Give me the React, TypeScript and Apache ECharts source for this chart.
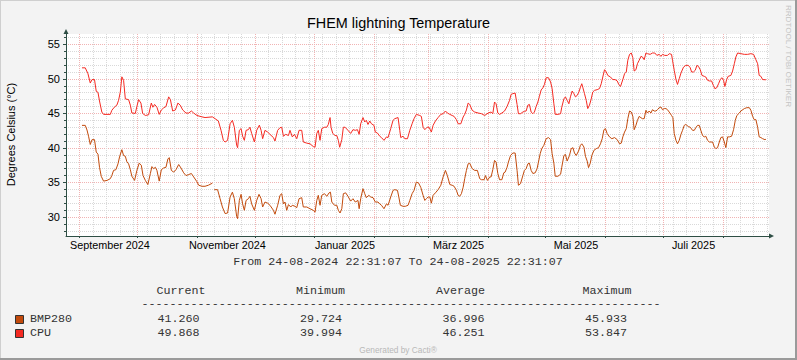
import React, { useEffect, useRef } from 'react';
import * as echarts from 'echarts';

// ---------- data ----------
const START = Date.UTC(2024, 7, 24, 22, 31, 7);
const DAY = 86400000;
const END = START + 365 * DAY;

// [days since start, °C]
const cpuSamples: [number, number][] = [
  [8.3,51.6],[10.0,51.6],[11.4,50.75],[12.6,49.4],[13.5,49.9],[14.8,49.9],[15.7,48.2],[16.6,48.05],[17.4,46.8],[18.6,45.2],[19.5,44.86],[23.0,44.86],[23.8,45.45],[25.1,45.9],[26.4,46.2],[27.3,46.9],[28.2,48.1],[29.0,50.3],[29.9,49.8],[30.8,47.1],[32.5,47.0],[33.4,46.2],[34.2,45.06],[36.0,45.0],[36.8,46.0],[37.7,47.0],[38.9,46.5],[39.8,45.0],[41.2,44.7],[42.9,44.8],[44.3,46.5],[45.1,45.9],[46.0,46.3],[47.2,45.9],[48.4,44.86],[49.5,45.5],[50.7,45.8],[51.9,46.0],[53.3,47.4],[54.2,47.0],[55.4,45.35],[56.8,45.5],[58.1,46.5],[59.3,46.2],[60.6,45.5],[62.3,45.05],[63.7,45.05],[65.1,45.35],[66.3,45.05],[68.0,44.7],[70.6,44.5],
  [72.2,44.4],[76.0,44.5],[77.4,44.24],[79.1,43.9],[80.5,42.55],[81.7,41.1],[82.6,40.86],[83.9,41.1],[85.2,43.5],[86.4,44.0],[87.4,43.0],[88.6,40.4],[89.1,40.04],[90.0,42.55],[90.9,42.8],[91.7,41.7],[92.6,41.1],[93.5,42.55],[94.7,42.65],[95.5,43.0],[96.4,42.1],[97.8,40.86],[99.0,42.55],[100.4,43.3],[101.3,42.55],[102.1,41.34],[103.3,42.55],[104.7,42.3],[105.9,41.97],[107.7,41.5],[108.5,41.0],[109.9,42.55],[111.1,42.93],[112.0,43.0],[112.9,41.7],[114.1,41.97],[115.5,41.8],[116.3,42.55],[117.5,41.6],[118.6,41.97],[119.8,41.34],[121.0,42.55],[122.4,42.55],[123.2,40.86],[125.0,40.7],[126.7,40.6],[128.4,40.2],[129.3,40.1],[130.2,42.1],[131.0,42.55],[131.9,41.1],[132.8,42.8],[134.2,43.0],[135.4,43.0],[136.2,43.4],[137.1,44.4],[137.6,43.0],[138.5,42.1],[139.7,41.8],[140.6,41.8],[141.4,41.1],[142.1,40.1],[143.2,41.2],[144.0,43.0],[144.9,43.0],
  [146.4,42.55],[147.8,42.1],[149.0,42.65],[150.2,42.55],[151.3,42.65],[152.2,41.97],[153.0,43.5],[154.2,44.4],[155.1,43.76],[155.9,44.0],[156.8,43.4],[157.7,43.9],[158.6,43.5],[159.9,43.27],[160.6,42.3],[161.7,42.16],[162.9,41.7],[163.8,41.5],[165.1,41.1],[166.4,41.6],[167.2,41.5],[168.6,42.8],[169.8,44.0],[170.7,44.24],[172.4,44.4],[173.3,42.55],[173.8,41.5],[175.0,41.7],[175.9,41.34],[177.3,41.34],[178.5,42.55],[179.7,43.5],[180.7,44.24],[181.9,44.86],[183.7,44.7],[184.5,44.57],[185.4,43.0],[186.3,42.65],[187.5,43.0],[188.5,43.0],[189.7,42.3],[190.6,43.27],[191.8,43.9],[193.2,44.4],[194.6,44.86],[195.8,44.96],[197.0,45.35],[198.0,45.06],[199.3,44.86],[200.5,44.7],[201.5,44.57],[202.7,44.1],[203.6,43.5],[205.0,43.5],[206.2,44.48],[207.0,44.86],[207.9,45.5],[208.8,46.5],[209.6,46.3],[210.9,45.45],[212.2,45.2],[214.0,45.06],[215.7,44.96],[217.4,44.7],[219.2,45.06],
  [220.7,45.2],[221.6,44.96],[222.5,46.65],[223.3,46.4],[224.2,45.06],[225.1,44.86],[226.3,45.06],[227.7,45.35],[229.0,46.0],[230.3,46.9],[231.1,47.76],[232.0,47.86],[233.2,47.95],[234.2,46.3],[234.9,44.96],[236.0,44.96],[237.2,45.2],[238.0,45.3],[238.9,45.35],[239.8,46.2],[240.6,46.3],[241.5,45.2],[242.4,44.96],[243.2,45.2],[244.1,46.0],[245.0,46.65],[245.8,47.47],[246.7,48.4],[247.6,48.7],[248.4,49.2],[249.3,50.17],[250.5,50.17],[251.6,49.55],[252.4,48.6],[253.3,46.4],[254.0,44.86],[255.4,44.86],[256.8,44.96],[257.4,45.9],[258.5,47.1],[259.3,47.4],[260.2,46.9],[261.1,46.4],[261.9,47.4],[262.8,48.24],[263.7,47.86],[264.5,47.4],[265.4,47.6],[266.3,48.1],[267.1,48.8],[267.8,49.3],[268.3,48.8],[269.2,47.86],[270.1,46.9],[270.9,45.7],[271.8,46.2],[272.7,47.1],[273.5,48.1],[274.4,48.34],[275.8,48.44],[277.0,48.6],[277.9,49.3],[278.7,50.27],[279.6,51.33],[280.5,51.0],[281.3,50.5],[282.7,50.27],[283.9,49.9],[285.1,49.9],[286.2,49.7],[287.0,49.2],[287.9,48.9],[289.1,49.9],[290.0,50.75],[290.9,51.0],[291.7,52.7],[292.6,53.55],[293.5,53.75],[294.3,53.07],
  [295.0,51.14],[295.9,51.33],[296.7,52.2],[297.6,52.7],[298.5,53.26],[299.3,53.17],[300.2,52.78],[301.1,53.75],[301.9,53.65],[303.3,53.55],[304.5,53.75],[305.7,53.75],[306.8,53.4],[308.0,53.55],[308.9,53.26],[309.7,53.55],[310.9,53.4],[312.3,53.4],[313.2,53.65],[314.4,53.55],[314.9,52.7],[315.8,51.24],[316.7,49.9],[317.5,49.2],[318.4,50.03],[319.3,50.85],[320.6,51.7],[321.8,51.96],[323.1,51.96],[324.1,51.62],[324.8,51.0],[325.8,51.0],[326.7,51.24],[327.6,51.96],[328.4,51.8],[329.3,51.33],[330.2,50.5],[331.4,50.37],[332.2,50.27],[333.1,49.8],[334.0,49.7],[335.2,49.7],[336.1,49.06],[336.9,48.58],[337.9,48.73],[338.8,49.3],[339.7,49.9],[340.5,50.17],[341.4,49.8],[342.1,48.9],[343.0,49.9],[343.8,50.37],[345.2,50.5],[346.1,51.14],[347.0,52.2],[347.8,53.17],[348.7,53.75],[350.4,53.65],[352.2,53.55],[353.9,53.55],[355.6,53.65],[357.0,53.55],[358.2,52.78],[359.1,52.2],[359.9,50.5],[360.8,50.37],[361.7,49.9],[363.4,49.87]
];

const bmpSamples: [number, number | null][] = [
  [8.3,43.27],[10.0,43.27],[10.9,42.6],[11.7,41.7],[12.6,40.5],[13.5,41.2],[14.8,41.2],[15.7,39.4],[16.6,39.1],[17.4,37.2],[18.3,35.9],[19.5,35.2],[21.3,35.3],[23.0,35.55],[23.8,36.0],[24.7,36.75],[25.9,36.85],[27.0,37.7],[27.8,38.7],[29.0,39.75],[29.9,38.9],[30.8,38.8],[31.6,38.0],[32.5,37.7],[33.4,36.85],[34.2,35.9],[35.6,35.3],[36.8,36.75],[38.0,37.8],[39.1,37.5],[40.0,36.0],[41.2,35.3],[42.5,34.7],[43.8,36.3],[44.6,37.3],[45.5,37.0],[46.4,37.2],[47.2,36.75],[48.4,35.2],[49.5,36.85],[50.7,37.1],[51.9,37.2],[52.9,38.4],[53.6,38.6],[54.7,36.75],[55.9,36.5],[57.1,36.85],[58.5,37.6],[59.7,37.1],[61.1,36.4],[62.3,36.0],[63.7,36.15],[65.1,36.3],[66.3,35.8],[68.0,35.1],[68.9,34.6],[70.6,34.45],
  [72.2,34.45],[73.9,34.6],[76.0,34.9],[76.5,null],[77.0,33.96],[78.7,33.96],[80.0,32.65],[81.2,31.45],[82.6,30.5],[83.9,30.58],[85.2,32.9],[86.4,33.6],[87.4,32.65],[88.6,30.1],[89.1,29.76],[90.0,32.4],[90.9,33.28],[91.7,31.9],[92.6,30.97],[93.5,32.4],[94.7,32.65],[95.5,33.0],[96.4,31.9],[97.8,30.97],[99.0,32.4],[100.2,33.28],[101.3,32.65],[102.1,31.45],[103.3,32.17],[104.7,32.0],[105.9,31.7],[107.7,30.97],[108.5,30.4],[109.9,31.7],[111.1,33.14],[112.0,33.38],[112.9,31.9],[113.7,32.17],[114.6,30.97],[115.5,31.8],[116.7,31.45],[117.5,31.7],[118.9,31.55],[119.8,31.35],[121.0,32.65],[122.4,32.8],[123.2,31.45],[125.0,31.45],[126.7,31.2],[128.4,30.97],[129.3,30.7],[130.2,32.4],[131.0,33.14],[131.9,31.7],[132.8,33.14],[134.2,33.38],[135.4,33.0],[136.6,33.5],[137.3,33.6],[138.0,32.17],[139.4,31.7],[140.6,31.7],[141.4,30.97],[142.3,30.58],[143.2,31.2],[144.0,33.38],[145.2,33.5],
  [146.4,33.0],[147.8,32.3],[149.0,32.65],[150.2,32.17],[151.6,32.4],[152.2,31.2],[153.0,32.65],[154.2,34.1],[155.1,33.38],[155.9,32.8],[157.2,33.14],[158.2,32.9],[159.4,32.8],[160.6,32.17],[162.0,32.17],[162.9,31.9],[163.8,31.7],[165.1,31.2],[166.4,31.9],[167.2,31.7],[168.6,32.9],[169.8,33.86],[170.7,33.96],[172.1,33.86],[172.8,32.9],[173.6,31.7],[175.0,31.55],[176.2,31.55],[177.6,31.7],[178.5,32.4],[179.7,33.38],[180.7,33.86],[181.9,35.07],[183.1,34.9],[184.2,34.3],[185.4,33.14],[186.3,32.4],[187.1,32.65],[188.0,32.9],[188.9,32.9],[189.7,32.0],[190.6,33.14],[191.8,33.5],[193.2,33.96],[194.6,34.6],[195.8,35.8],[197.0,36.75],[198.0,36.0],[199.3,34.7],[200.5,34.6],[201.5,34.45],[202.7,33.86],[203.6,33.14],[204.4,33.0],[205.3,33.38],[206.2,34.3],[207.0,35.55],[207.9,36.75],[208.8,37.7],[209.6,37.8],[210.9,37.0],[212.2,36.75],[213.6,36.75],[214.8,35.55],[215.7,35.4],[217.1,35.4],[217.8,36.0],[218.8,35.3],[220.0,35.8],
  [220.7,35.8],[221.6,36.85],[222.5,38.2],[223.3,37.96],[224.2,36.3],[225.1,35.4],[226.3,35.4],[227.3,36.4],[228.0,36.5],[229.0,37.2],[229.7,37.96],[230.8,38.9],[232.0,39.27],[233.2,39.27],[234.2,36.75],[234.9,34.6],[236.0,34.83],[237.2,36.0],[238.0,36.75],[238.9,37.0],[239.8,37.7],[240.6,37.8],[241.5,36.75],[242.4,36.3],[243.6,36.4],[244.6,37.0],[245.3,37.96],[246.2,39.17],[247.0,39.9],[248.1,40.38],[249.3,41.34],[250.5,41.5],[251.6,41.2],[252.4,39.17],[253.3,37.8],[254.0,35.9],[255.4,35.9],[256.8,36.2],[257.4,37.2],[258.5,38.9],[259.3,39.07],[260.2,38.1],[261.4,38.9],[262.3,39.9],[263.2,40.04],[264.0,39.27],[264.9,38.9],[266.1,39.55],[267.1,40.38],[267.8,40.6],[268.9,40.14],[269.7,38.8],[270.6,38.1],[271.3,37.15],[272.2,37.8],[273.0,38.9],[274.1,39.65],[275.3,39.9],[276.5,40.04],[277.5,40.6],[278.4,41.34],[279.3,42.64],[280.1,42.8],[281.0,42.07],[282.2,41.6],[283.4,41.34],[284.8,41.5],[286.2,41.2],[287.4,40.6],[288.3,40.7],[289.1,41.6],[290.0,42.3],[290.9,42.8],[291.7,44.24],[292.6,45.35],[293.5,45.2],[294.3,44.57],
  [295.0,42.64],[295.9,43.27],[296.7,44.0],[297.6,44.57],[298.5,44.38],[299.3,44.24],[300.2,44.24],[301.1,45.45],[301.9,45.06],[302.8,45.35],[303.7,45.06],[304.5,45.54],[305.4,45.35],[306.3,45.35],[307.1,45.54],[308.0,45.83],[308.9,45.93],[309.7,45.54],[310.6,45.7],[311.5,45.7],[312.3,45.54],[313.2,45.2],[314.4,44.7],[315.1,44.38],[315.8,42.07],[316.7,41.1],[317.5,40.6],[318.4,41.1],[319.3,41.97],[320.1,42.55],[321.0,43.27],[321.8,43.4],[323.1,43.1],[324.1,43.0],[325.3,42.55],[326.2,42.55],[327.0,42.93],[327.9,43.27],[328.8,43.27],[329.6,42.55],[330.5,41.8],[331.4,41.6],[332.2,41.7],[333.1,41.1],[334.0,40.86],[335.7,40.86],[336.6,40.14],[337.4,39.9],[338.3,40.04],[339.2,40.86],[340.0,41.5],[340.9,41.6],[341.8,40.86],[342.6,40.04],[343.5,41.6],[344.4,41.6],[345.6,41.7],[346.6,42.64],[347.5,44.0],[348.3,44.7],[349.6,45.06],[350.4,45.35],[352.2,45.7],[353.5,45.83],[354.8,45.83],[355.6,45.45],[356.5,44.57],[357.3,44.1],[358.2,44.1],[359.1,43.0],[359.9,41.6],[360.8,41.5],[361.7,41.34],[362.9,41.2],[363.4,41.26]
];

const yMajorTicks = [30, 35, 40, 45, 50, 55];
const yMinorTicks = [28, 29, 30, 31, 32, 33, 34, 35, 36, 37, 38, 39, 40, 41, 42, 43, 44, 45, 46, 47, 48, 49, 50, 51, 52, 53, 54, 55, 56];
const labelMonths: [number, number][] = [[2024, 8], [2024, 10], [2025, 0], [2025, 2], [2025, 4], [2025, 6]];
const monthNames = ['Januar', 'Februar', 'März', 'April', 'Mai', 'Juni', 'Juli', 'August', 'September', 'Oktober', 'November', 'Dezember'];

const chartTitle = 'FHEM lightning Temperature';
const yAxisTitle = 'Degrees Celsius (°C)';
const rangeText = 'From 24-08-2024 22:31:07 To 24-08-2025 22:31:07';
const statHeaders = ['Current', 'Minimum', 'Average', 'Maximum'];
const seriesNames = ['BMP280', 'CPU'];
const bmpStats = ['41.260', '29.724', '36.996', '45.933'];
const cpuStats = ['49.868', '39.994', '46.251', '53.847'];
const sideText = 'RRDTOOL / TOBI OETIKER';
const footerText = 'Generated by Cacti®';

// ---------- style ----------
const BMP_COLOR = '#C24A0C';
const CPU_COLOR = '#F42A22';
const AXIS_COLOR = '#2E4E44';
const SANS = '"Liberation Sans", Arial, sans-serif';
const MONO = '"Liberation Mono", "Courier New", monospace';

function monthStarts(): number[] {
  const out: number[] = [];
  for (let i = 0; i < 13; i++) {
    const v = Date.UTC(2024, 8 + i, 1);
    if (v > START && v < END) out.push(v);
  }
  return out;
}
function sundays(): number[] {
  const out: number[] = [];
  for (let v = Date.UTC(2024, 7, 25); v < END; v += 7 * DAY) out.push(v);
  return out;
}

function txt(x: number, y: number, text: string, o: any = {}) {
  return {
    type: 'text',
    x,
    y,
    rotation: o.rotation || 0,
    silent: true,
    style: {
      text,
      fill: o.fill || '#000',
      fontSize: o.fontSize || 11,
      fontFamily: o.fontFamily || SANS,
      align: o.align || 'left',
      verticalAlign: 'middle',
      textAlign: o.align || 'left',
      textVerticalAlign: 'middle'
    }
  };
}

export default function App() {
  const ref = useRef<HTMLDivElement>(null);
  useEffect(() => {
    if (!ref.current) return;
    const chart = echarts.init(ref.current, null, { renderer: 'svg' });
    const toXY = (s: [number, number | null][]) => s.map(([d, v]) => [START + d * DAY, v]);
    const labelVals = labelMonths.map(([y, m]) => Date.UTC(y, m, 16, 18));

    const headerX = [156.5, 296, 436, 582.5];
    const valueX = [157.5, 300, 442.5, 585];
    const graphics: any[] = [
      txt(398.5, 22.5, chartTitle, { fontSize: 14.4, align: 'center' }),
      txt(11, 134.5, yAxisTitle, { fontSize: 11, align: 'center', rotation: Math.PI / 2 }),
      txt(788, 56, sideText, { fontSize: 8.1, align: 'center', rotation: -Math.PI / 2, fill: '#c4c4c4' }),
      txt(398, 261.5, rangeText, { fontFamily: MONO, fontSize: 11.7, align: 'center', fill: '#333' }),
      txt(401, 303.5, '-'.repeat(74), { fontFamily: MONO, fontSize: 11.7, align: 'center', fill: '#333' }),
      txt(30, 319, seriesNames[0], { fontFamily: MONO, fontSize: 11.7, fill: '#333' }),
      txt(30, 332.5, seriesNames[1], { fontFamily: MONO, fontSize: 11.7, fill: '#333' }),
      txt(398, 349.5, footerText, { fontSize: 8.3, align: 'center', fill: '#b8b8b8' }),
      { type: 'rect', shape: { x: 15.5, y: 315.5, width: 8, height: 8 }, style: { fill: BMP_COLOR, stroke: '#333', lineWidth: 1 }, silent: true },
      { type: 'rect', shape: { x: 15.5, y: 329.5, width: 8, height: 8 }, style: { fill: CPU_COLOR, stroke: '#333', lineWidth: 1 }, silent: true },
      { type: 'line', shape: { x1: 0, y1: 0.5, x2: 797, y2: 0.5 }, style: { stroke: '#cfcfcf', lineWidth: 1 }, silent: true },
      { type: 'line', shape: { x1: 0.5, y1: 0, x2: 0.5, y2: 360 }, style: { stroke: '#cfcfcf', lineWidth: 1 }, silent: true },
      { type: 'line', shape: { x1: 0, y1: 359, x2: 797, y2: 359 }, style: { stroke: '#9a9a9a', lineWidth: 2 }, silent: true },
      { type: 'line', shape: { x1: 796, y1: 0, x2: 796, y2: 360 }, style: { stroke: '#9a9a9a', lineWidth: 2 }, silent: true }
    ];
    statHeaders.forEach((h, i) => graphics.push(txt(headerX[i], 290.5, h, { fontFamily: MONO, fontSize: 11.7, fill: '#333' })));
    bmpStats.forEach((v, i) => graphics.push(txt(valueX[i], 319, v, { fontFamily: MONO, fontSize: 11.7, fill: '#333' })));
    cpuStats.forEach((v, i) => graphics.push(txt(valueX[i], 332.5, v, { fontFamily: MONO, fontSize: 11.7, fill: '#333' })));

    const minorLine = { show: true, lineStyle: { color: '#d9d9d9', width: 1, type: [1, 1] } };
    const majorLine = { show: true, lineStyle: { color: '#f1b3b3', width: 1, type: [1, 1] } };

    chart.setOption({
      animation: false,
      backgroundColor: '#f3f3f3',
      grid: { left: 66, top: 34, width: 703, height: 202, show: true, backgroundColor: '#ffffff', borderWidth: 0, containLabel: false },
      xAxis: [
        {
          type: 'value', min: START, max: END, position: 'bottom',
          axisLine: { show: false }, axisLabel: { show: false },
          axisTick: { show: false, customValues: sundays() },
          splitLine: minorLine
        },
        {
          type: 'value', min: START, max: END, position: 'bottom',
          axisLine: { show: true, onZero: false, symbol: ['none', 'triangle'], symbolSize: [5, 5], symbolOffset: [0, 2.5], lineStyle: { color: AXIS_COLOR, width: 1 } },
          axisTick: { show: true, customValues: monthStarts(), length: 2, lineStyle: { color: AXIS_COLOR } },
          axisLabel: {
            customValues: labelVals, margin: 3, color: '#000', fontSize: 10.8, fontFamily: SANS, hideOverlap: false,
            formatter: (v: number) => { const d = new Date(v); return monthNames[d.getUTCMonth()] + ' ' + d.getUTCFullYear(); }
          },
          splitLine: majorLine
        }
      ],
      yAxis: [
        {
          type: 'value', min: 27.25, max: 56.5, position: 'left',
          axisLine: { show: false }, axisLabel: { show: false },
          axisTick: { show: true, customValues: yMinorTicks, length: 2, lineStyle: { color: AXIS_COLOR } },
          splitLine: minorLine
        },
        {
          type: 'value', min: 27.25, max: 56.5, position: 'left',
          axisLine: { show: true, onZero: false, symbol: ['none', 'triangle'], symbolSize: [5, 5], symbolOffset: [0, 2.5], lineStyle: { color: AXIS_COLOR, width: 1 } },
          axisTick: { show: true, customValues: yMajorTicks, length: 3, lineStyle: { color: AXIS_COLOR } },
          axisLabel: { customValues: yMajorTicks, margin: 6, color: '#000', fontSize: 11, fontFamily: SANS },
          splitLine: majorLine
        }
      ],
      series: [
        {
          type: 'line', name: seriesNames[0], xAxisIndex: 1, yAxisIndex: 1,
          data: toXY(bmpSamples), showSymbol: false, symbol: 'none', connectNulls: false,
          lineStyle: { color: BMP_COLOR, width: 1 }, itemStyle: { color: BMP_COLOR }, z: 3
        },
        {
          type: 'line', name: seriesNames[1], xAxisIndex: 1, yAxisIndex: 1,
          data: toXY(cpuSamples), showSymbol: false, symbol: 'none',
          lineStyle: { color: CPU_COLOR, width: 1 }, itemStyle: { color: CPU_COLOR }, z: 3
        }
      ],
      graphic: { elements: graphics }
    });
    return () => chart.dispose();
  }, []);
  return <div ref={ref} style={{ position: 'absolute', left: 0, top: 0, width: 797, height: 360 }} />;
}
